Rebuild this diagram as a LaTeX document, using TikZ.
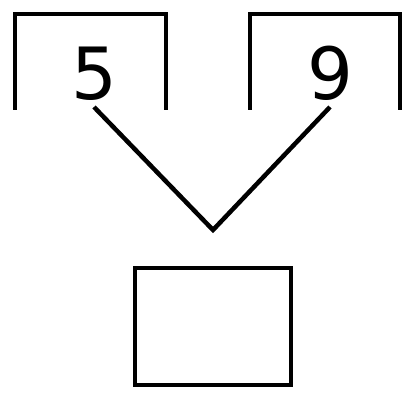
\documentclass[tikz,border=0pt]{standalone}
\usepackage{fontspec}
\setmainfont{DejaVu Sans}
\usetikzlibrary{positioning}
\begin{document}
\begin{tikzpicture}[x=0.02cm,y=-0.02cm,line width=0.09cm]
    \tikzset{digit/.style={inner sep=0.08cm,anchor=south,font=\fontsize{41}{41}\selectfont},
             answer/.style={rectangle,draw,minimum width=3.12cm,minimum height=2.34cm}}
    \useasboundingbox (0,0) rectangle (410,394);
    % the two open boxes
    \draw (15,110) |- (166,14) -- (166,110);
    \draw (250,110) |- (400,14) -- (400,110);
    \node[digit] (five) at (94,107) {5};
    \node[digit] (nine) at (330,107) {9};
    \coordinate (tip) at (213,230);
    \node[answer] (box) at (213,326.5) {};

    \draw[miter limit=10] (five.south) -- (tip) -- (nine.south);
\end{tikzpicture}
\end{document}
